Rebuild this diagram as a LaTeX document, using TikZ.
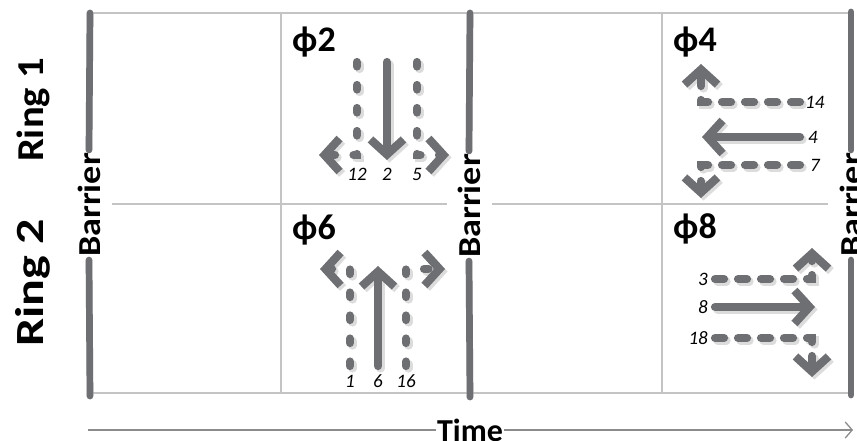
\documentclass[tikz,border=0pt]{standalone}
\usepackage{fontspec}
\setmainfont{Carlito}
\usetikzlibrary{arrows.meta}
\definecolor{arrowgray}{HTML}{6E6F73}
\definecolor{shadowgray}{HTML}{DCDCDC}
\definecolor{gridgray}{HTML}{C4C4C4}
\definecolor{timegray}{HTML}{8C8C8C}
\newcommand\shdraw[2]{\draw[#1,draw=shadowgray,shift={(2.5,2.5)}] #2;\draw[#1] #2;}
\begin{document}
\begin{tikzpicture}[x=1pt,y=-1pt,
  gridline/.style={draw=gridgray,line width=1.3pt},
  barrierline/.style={draw=arrowgray,line width=6.7pt,line cap=round},
  mv/.style={draw=arrowgray,line width=8.2pt,line cap=round,-{Straight Barb[length=15pt,width=33pt]}},
  mvdashv/.style={mv,dash pattern=on 4.5pt off 18.5pt},
  mvdashh/.style={mv,dash pattern=on 9pt off 14pt},
  phase/.style={font=\fontsize{36}{36}\selectfont\bfseries,inner sep=0pt,anchor=base west},
  num/.style={font=\fontsize{19}{19}\selectfont\itshape,inner sep=0pt},
  bartext/.style={font=\fontsize{32}{32}\selectfont\bfseries,rotate=90,inner sep=3pt},
  ringtext/.style={font=\fontsize{#1}{#1}\selectfont\bfseries,rotate=90,inner sep=0pt}]
\useasboundingbox (0,0) rectangle (857,440);

% grid
\coordinate (g1) at (90,13);  \coordinate (g2) at (851,13);
\coordinate (g3) at (112,204); \coordinate (g4) at (447,204);
\coordinate (g5) at (492,204); \coordinate (g6) at (828,204);
\coordinate (g7) at (90,393); \coordinate (g8) at (851,393);
\coordinate (v1t) at (281,13); \coordinate (v1b) at (281,393);
\coordinate (v2t) at (662,13); \coordinate (v2b) at (662,393);
\shdraw{gridline}{(g1) -- (g2)}
\shdraw{gridline}{(g3) -- (g4)}
\shdraw{gridline}{(g5) -- (g6)}
\shdraw{gridline}{(g7) -- (g8)}
\shdraw{gridline}{(v1t) -- (v1b)}
\shdraw{gridline}{(v2t) -- (v2b)}

% barriers
\node[bartext] (bar1) at (89,205) {\scalebox{1.13}[1]{Barrier}};
\node[bartext] (bar2) at (469,206) {\scalebox{1.13}[1]{Barrier}};
\node[bartext] (bar3) at (851,205) {\scalebox{1.13}[1]{Barrier}};
\coordinate (b1t) at (90,13); \coordinate (b1b) at (90,396);
\coordinate (b2t) at (470,13); \coordinate (b2b) at (470,397);
\coordinate (b3t) at (851,12); \coordinate (b3b) at (851,395);
\shdraw{barrierline}{(b1t) -- (bar1.east)}
\shdraw{barrierline}{(bar1.west) -- (b1b)}
\shdraw{barrierline}{(b2t) -- (bar2.east)}
\shdraw{barrierline}{(bar2.west) -- (b2b)}
\shdraw{barrierline}{(b3t) -- (bar3.east)}
\shdraw{barrierline}{(bar3.west) -- (b3b)}

% ring labels
\node[ringtext=38] (ring1) at (33,110) {\scalebox{1.07}[1]{Ring 1}};
\node[ringtext=40] (ring2) at (33,283) {\scalebox{1.25}[1]{Ring 2}};

% phase labels
\node[phase] (p2) at (292,51) {ϕ2};
\node[phase] (p4) at (673,51) {ϕ4};
\node[phase] (p6) at (292,239) {ϕ6};
\node[phase] (p8) at (673,238) {ϕ8};

% phi 2 movements
\shdraw{mv}{(387,62) -- (387,160)}
\shdraw{mvdashv}{(357,62) |- (319,155)}
\shdraw{mvdashv}{(417,62) |- (449,155)}
\node[num] (n12) at (357,174) {12};
\node[num] (n2) at (387,174) {2};
\node[num] (n5) at (417,174) {5};

% phi 4 movements
\shdraw{mv}{(800,137) -- (702,137)}
\shdraw{mvdashh}{(800,102) -| (701,64)}
\shdraw{mvdashh}{(800,165) -| (701,198)}
\node[num,anchor=west] (n14) at (805,102) {14};
\node[num,anchor=west] (n4) at (808,137) {4};
\node[num,anchor=west] (n7) at (810,165) {7};

% phi 6 movements
\shdraw{mv}{(378,366) -- (378,266)}
\shdraw{mvdashv}{(350,366) |- (320,269)}
\shdraw{mvdashv}{(406,366) |- (445,269)}
\node[num] (n1) at (350,381) {1};
\node[num] (n6) at (378,381) {6};
\node[num] (n16) at (406,381) {16};

% phi 8 movements
\shdraw{mv}{(715,307) -- (815,307)}
\shdraw{mvdashh}{(715,279) -| (812,248)}
\shdraw{mvdashh}{(715,338) -| (812,377)}
\node[num,anchor=east] (n3) at (708,279) {3};
\node[num,anchor=east] (n8) at (708,307) {8};
\node[num,anchor=east] (n18) at (708,338) {18};

% time axis
\node[font=\fontsize{32}{32}\selectfont\bfseries,inner sep=1pt] (time) at (470,430) {Time};
\coordinate (t0) at (88,430); \coordinate (t1) at (853,430);
\shdraw{draw=timegray,line width=1.2pt}{(t0) -- (time.west)}
\shdraw{draw=timegray,line width=1.2pt,-{Straight Barb[length=7pt,width=16pt]}}{(time.east) -- (t1)}
\end{tikzpicture}
\end{document}
